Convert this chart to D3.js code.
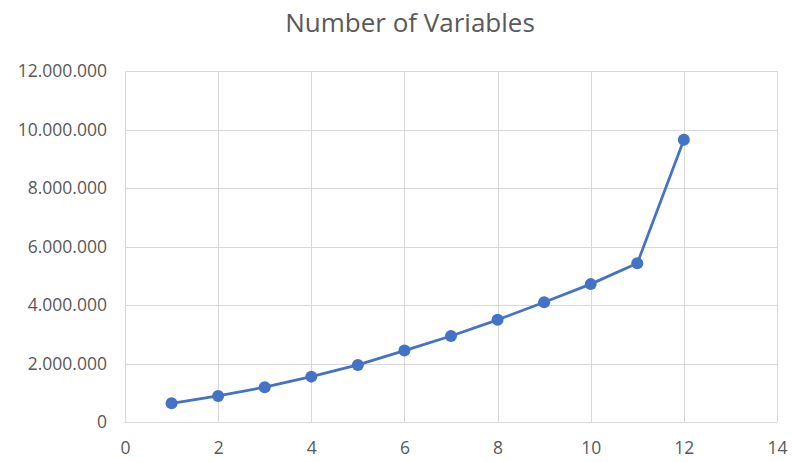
<!DOCTYPE html>
<html>
<head>
<meta charset="utf-8">
<script src="https://cdn.jsdelivr.net/npm/d3@7"></script>
<style>
  html, body { margin: 0; padding: 0; background: #fff; }
  svg { display: block; }
  text { font-family: "Open Sans", "DejaVu Sans", sans-serif; fill: #595959; }
</style>
</head>
<body>
<svg id="chart" width="792" height="462"></svg>
<script>
// Chart data
const chartTitle = "Number of Variables";
const xValues = [1, 2, 3, 4, 5, 6, 7, 8, 9, 10, 11, 12];
const yValues = [650000, 900000, 1200000, 1560000, 1960000, 2450000, 2950000, 3500000, 4100000, 4720000, 5430000, 9650000];
const xTicks = [0, 2, 4, 6, 8, 10, 12, 14];
const yTicks = [0, 2000000, 4000000, 6000000, 8000000, 10000000, 12000000];

const svg = d3.select("#chart");
const margin = { left: 125, right: 15, top: 71, bottom: 40 };
const W = 792, H = 462;

const x = d3.scaleLinear().domain([0, 14]).range([margin.left, W - margin.right]);
const y = d3.scaleLinear().domain([0, 12000000]).range([H - margin.bottom + 0.3, margin.top]);

// Thousands separated with dots
const fmt = v => v === 0 ? "0" : d3.format(",")(v).replace(/,/g, ".");

// Gridlines
svg.append("g")
  .selectAll("line")
  .data(yTicks)
  .join("line")
  .attr("x1", x(0)).attr("x2", x(14))
  .attr("y1", d => Math.round(y(d)) + 0.5).attr("y2", d => Math.round(y(d)) + 0.5)
  .attr("stroke", "#d9d9d9").attr("stroke-width", 1);

svg.append("g")
  .selectAll("line")
  .data(xTicks)
  .join("line")
  .attr("y1", y(0)).attr("y2", y(12000000))
  .attr("x1", d => Math.round(x(d)) + 0.5).attr("x2", d => Math.round(x(d)) + 0.5)
  .attr("stroke", "#d9d9d9").attr("stroke-width", 1);

// Y axis labels
const yAxis = d3.axisLeft(y).tickValues(yTicks).tickFormat(fmt).tickSize(0).tickPadding(18);
const gy = svg.append("g").attr("transform", `translate(${x(0)},0)`).call(yAxis);
gy.select(".domain").remove();
gy.selectAll("text").attr("font-size", 17.5).attr("fill", "#595959")
  .style("font-family", '"Open Sans", sans-serif');

// X axis labels
const xAxis = d3.axisBottom(x).tickValues(xTicks).tickFormat(d3.format("d")).tickSize(0).tickPadding(19);
const gx = svg.append("g").attr("transform", `translate(0,${y(0)})`).call(xAxis);
gx.select(".domain").remove();
gx.selectAll("text").attr("font-size", 17.5).attr("fill", "#595959")
  .style("font-family", '"Open Sans", sans-serif');

// Series line
const pts = xValues.map((v, i) => [v, yValues[i]]);
svg.append("path")
  .datum(pts)
  .attr("fill", "none")
  .attr("stroke", "#4472c4")
  .attr("stroke-width", 2.75)
  .attr("stroke-linejoin", "round")
  .attr("d", d3.line().x(d => x(d[0])).y(d => y(d[1])));

// Markers
svg.append("g")
  .selectAll("circle")
  .data(pts)
  .join("circle")
  .attr("cx", d => x(d[0]))
  .attr("cy", d => y(d[1]))
  .attr("r", 6)
  .attr("fill", "#4472c4");

// Title
svg.append("text")
  .attr("x", 410).attr("y", 32)
  .attr("text-anchor", "middle")
  .attr("font-size", 26)
  .attr("fill", "#595959")
  .text(chartTitle);
</script>
</body>
</html>
